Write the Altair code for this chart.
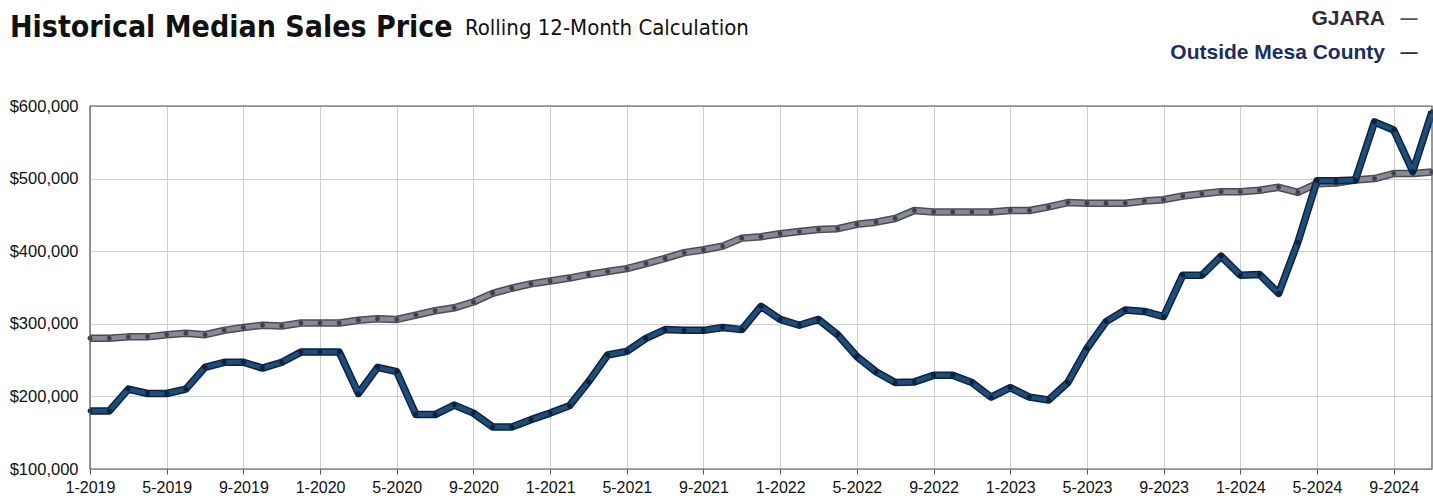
import altair as alt
import pandas as pd

months = [f"{m}-{y}" for y in range(2019, 2025) for m in range(1, 13)][:71]

gjara = [280, 280, 282, 282, 285, 287, 285, 291, 295, 298, 297, 301, 301, 301, 305, 307, 306, 312, 318, 322,
         330, 342, 349, 355, 359, 363, 368, 372, 376, 383, 390, 398, 402, 407, 418, 420, 424, 427, 430, 431,
         437, 440, 445, 456, 454,
         454, 454, 454, 456, 456, 461, 467, 466, 466, 466, 469, 471, 476, 479, 482, 482, 484, 488, 481, 493,
         494, 498, 500, 507, 507, 509]
outside = [180, 180, 210, 204, 204, 210, 240, 247, 247, 239, 247, 261, 261, 261, 204, 240, 234, 175, 175, 188,
           177, 158, 158, 168, 177, 187, 220, 257, 262, 280, 292, 291, 291, 295, 292, 324, 306, 298, 306, 285,
           255, 234, 219, 220, 229,
           229, 219, 199, 212, 199, 195, 219, 266, 303, 319, 317, 310, 367, 367, 393, 367, 368, 342, 412, 497,
           497, 498, 578, 567, 510, 592]

series_names = ["GJARA", "Outside Mesa County"]
title_text = "Historical Median Sales Price"
subtitle_text = "Rolling 12-Month Calculation"

rows = []
for i, (g, o) in enumerate(zip(gjara, outside)):
    rows.append({"idx": i, "month": months[i], "series": "GJARA", "price": g * 1000})
    rows.append({"idx": i, "month": months[i], "series": "Outside Mesa County", "price": o * 1000})
df = pd.DataFrame(rows)

FONT = "Liberation Sans, Arial, Helvetica, sans-serif"
NARROW = "Liberation Sans Narrow, DejaVu Sans Condensed, Arial Narrow, sans-serif"

label_expr = "[" + ",".join(f"'{m}'" for m in months) + "][datum.value]"

x = alt.X("idx:Q", scale=alt.Scale(domain=[0, 70], nice=False, zero=False),
          axis=alt.Axis(values=list(range(0, 69, 4)), labelExpr=label_expr, title=None,
                        labelFont=FONT, labelFontSize=16, labelColor="#111",
                        labelFlush=False, labelOverlap=False,
                        tickSize=5, tickColor="#555", domain=False, labelPadding=5,
                        gridColor="#cfcfcf", gridWidth=1))
y = alt.Y("price:Q", scale=alt.Scale(domain=[100000, 600000], nice=False, zero=False),
          axis=alt.Axis(values=[100000, 200000, 300000, 400000, 500000, 600000], format="$,.0f", title=None,
                        labelFont=FONT, labelFontSize=16.5, labelColor="#111", ticks=False, domain=False,
                        labelFlush=False, labelOverlap=False,
                        labelPadding=12, gridColor="#cfcfcf", gridWidth=1))

base = alt.Chart(df)

def series_layers(name, dark, main, dot):
    d = base.transform_filter(alt.datum.series == name)
    under = d.mark_line(color=dark, strokeWidth=7.5, strokeJoin="round").encode(x=x, y=y)
    over = d.mark_line(color=main, strokeWidth=4.5, strokeJoin="round").encode(x=x, y=y)
    pts = d.mark_point(filled=True, color=dot, size=24, opacity=1).encode(x=x, y=y)
    return [under, over, pts]

layers = []
layers += series_layers("GJARA", "#4a4d55", "#868a93", "#3e4149")
layers += series_layers("Outside Mesa County", "#0d2242", "#1f4d7a", "#0c1f3c")

frame = alt.Chart(pd.DataFrame({"a": [0]})).mark_rect(fill=None, stroke="#555", strokeWidth=1.2).encode(
    x=alt.value(0), x2=alt.value(1342), y=alt.value(0), y2=alt.value(363))

def txt(text, xv, yv, size, weight, color, align="left", font=FONT):
    return alt.Chart(pd.DataFrame({"t": [text]})).mark_text(
        align=align, baseline="middle", fontSize=size, fontWeight=weight, color=color, font=font
    ).encode(x=alt.value(xv), y=alt.value(yv), text="t:N")

title = txt(title_text, -80, -78, 30, "bold", "#111", font=NARROW)
subtitle = txt(subtitle_text, 375, -78, 22, "normal", "#111", font=NARROW)
leg1 = txt(series_names[0], 1295, -87, 21, "bold", "#2b2d3a", align="right")
leg1d = txt("\u2014", 1319, -87, 17, "bold", "#555", align="center")
leg2 = txt(series_names[1], 1295, -53, 21, "bold", "#1c2d5e", align="right")
leg2d = txt("\u2014", 1319, -53, 17, "bold", "#1c2d5e", align="center")

chart = alt.layer(*layers, frame, title, subtitle, leg1, leg1d, leg2, leg2d).properties(
    width=1342, height=363,
    autosize=alt.AutoSizeParams(type="none"),
    padding={"left": 90, "top": 106, "right": 1, "bottom": 27},
    background="white",
).configure_view(stroke=None)

chart.save("out.html", embed_options={"renderer": "svg", "actions": False})
